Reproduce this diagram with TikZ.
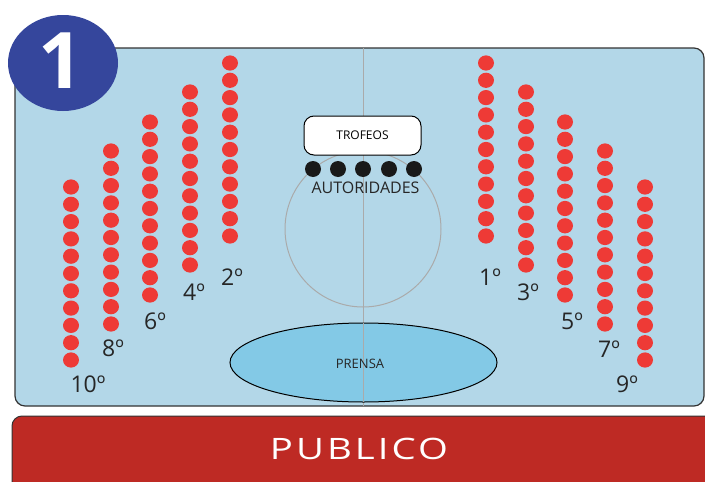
\documentclass[tikz,border=0pt]{standalone}
\usepackage{fontspec}
\setmainfont{Open Sans}
\usetikzlibrary{calc}

\definecolor{campo}{HTML}{B3D7E8}
\definecolor{prensaazul}{HTML}{83C9E6}
\definecolor{asiento}{HTML}{EE3A36}
\definecolor{publicorojo}{HTML}{BE2A24}
\definecolor{insignia}{HTML}{35469C}
\definecolor{borde}{HTML}{333333}
\definecolor{linea}{HTML}{AAAAAA}

\tikzset{
  seat/.style={fill=asiento},
  numlbl/.style={inner sep=0, text=black!85, font=\fontsize{23}{23}\selectfont},
  trofeo/.style={draw=black, fill=white, rounded corners=10pt, line width=1pt,
    minimum width=117pt, minimum height=39pt, font=\fontsize{12}{12}\selectfont},
}

\begin{document}
\begin{tikzpicture}[x=1pt, y=-1pt]
\useasboundingbox (0,0) rectangle (705,482);
\clip (0,0) rectangle (705,482);
% campo
\draw[borde, fill=campo, line width=1.2pt, rounded corners=10pt] (15,48) rectangle (704,406);
\draw[linea, line width=1pt] (363,48) -- (363,406);
\draw[linea, line width=1pt] (363,229) circle (78pt);
% prensa
\draw[black, fill=prensaazul, line width=1pt] (363.5,362.5) ellipse [x radius=133.5pt, y radius=39.5pt];
\draw[linea, line width=1pt] (363,323) -- (363,402);
\node[inner sep=0, text=black!85, font=\fontsize{13}{13}\selectfont] (prensa) at (360,364) {PRENSA};
% trofeos y autoridades
\node[trofeo] (trofeos) at (362.5,135.5) {TROFEOS};
\foreach \x in {313,338,363,389,414}
  \fill[black!90] (\x,169) circle (8pt);
\node[inner sep=0, text=black!85, font=\fontsize{16}{16}\selectfont] (autoridades) at (365.5,188) {AUTORIDADES};
% asientos
\foreach \cx/\cy in {71/187, 111/151, 150/122, 190/92, 230/63, 486/63, 526/92, 565/122, 605/151, 645/187} {
  \foreach \k in {0,...,10}
    \fill[seat] (\cx,\cy+17.3*\k) ellipse [x radius=8pt, y radius=7.6pt];
}
\foreach \n/\x/\y in {2/232/277, 4/194/292, 6/155/321, 8/113/348, 10/88/384,
                      1/490/277, 3/528/292, 5/572/321, 7/609/349, 9/627/384}
  \node[numlbl] (lbl\n) at (\x,\y) {\n º};
% publico
\draw[borde, fill=publicorojo, line width=1pt, rounded corners=10pt] (12,416) rectangle (720,500);
\node[inner sep=0, text=white, xscale=1.3, transform shape, font=\fontsize{29.5}{29.5}\selectfont\addfontfeatures{LetterSpace=8}] (publico) at (359,448.5) {PUBLICO};
% insignia
\fill[insignia] (63,63) ellipse [x radius=55pt, y radius=48pt];
\node[inner sep=0, text=white, font=\bfseries\fontsize{78}{78}\selectfont] (uno) at (61,61) {1};
\end{tikzpicture}
\end{document}
